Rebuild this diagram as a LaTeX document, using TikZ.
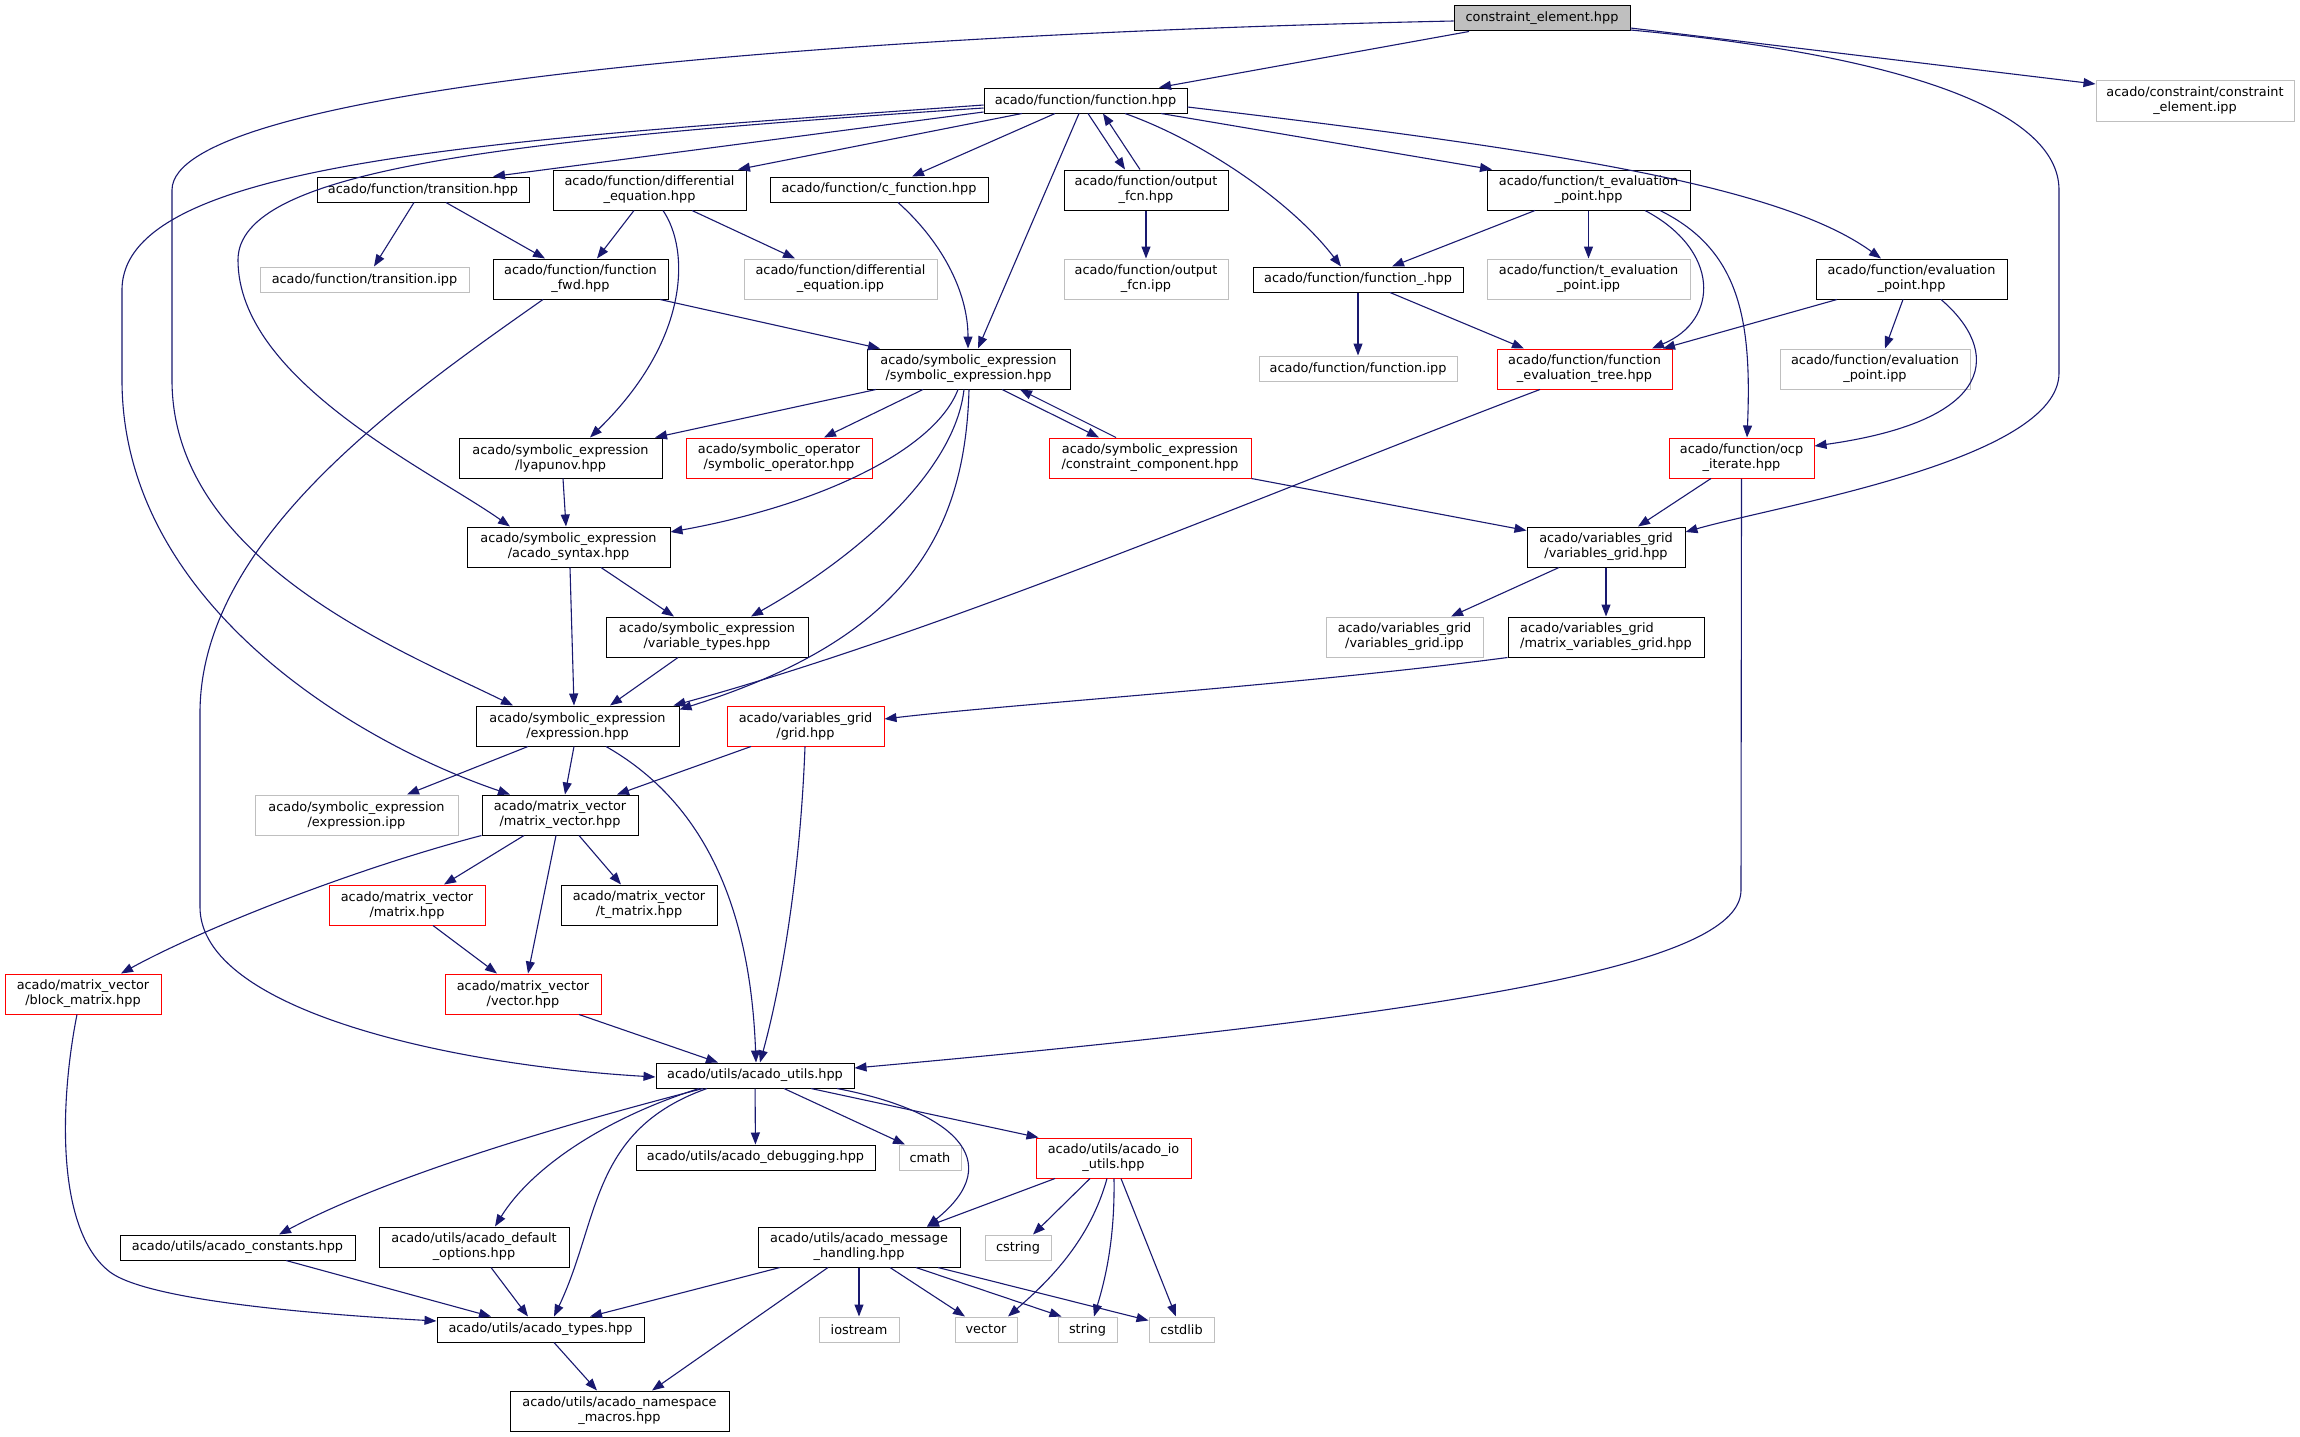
\documentclass[tikz,border=0pt]{standalone}
\usepackage{fontspec}
\setmainfont{DejaVu Sans}
\usetikzlibrary{arrows.meta}
\definecolor{edgec}{HTML}{191970}
\definecolor{grayc}{HTML}{BFBFBF}
\newcommand\dxfont{\fontsize{12.87pt}{15pt}\selectfont}
\tikzset{
 nb/.style={draw=black, line width=1pt, inner sep=0pt, align=center, font=\dxfont, fill=white},
 gb/.style={nb, draw=grayc},
 rb/.style={nb, draw=red},
 edge/.style={draw=edgec, line width=1.1pt, -{Triangle[length=12pt,width=9pt]}},
}
\begin{document}
\begin{tikzpicture}[x=1pt,y=-1pt]
\fill[white] (0,0) rectangle (2300,1437);
\useasboundingbox (0,0) rectangle (2300,1437);
% nodes
\node[nb, fill=grayc, minimum width=176, minimum height=25] (ce) at (1542,18.5) {constraint\_element.hpp};
\node[nb, minimum width=203, minimum height=25] (ff) at (1085.5,100.5) {acado/function/function.hpp};
\node[gb, minimum width=198, minimum height=40] (ceipp) at (2195,101) {acado/constraint/constraint\\\_element.ipp};
\node[nb, minimum width=212, minimum height=25] (tr) at (423,189.5) {acado/function/transition.hpp};
\node[nb, minimum width=193, minimum height=40] (de) at (649.5,190) {acado/function/differential\\\_equation.hpp};
\node[nb, minimum width=218, minimum height=25] (cf) at (879,189.5) {acado/function/c\_function.hpp};
\node[nb, minimum width=164, minimum height=40] (of) at (1146,190) {acado/function/output\\\_fcn.hpp};
\node[nb, minimum width=203, minimum height=40] (te) at (1588.5,190) {acado/function/t\_evaluation\\\_point.hpp};
\node[gb, minimum width=209, minimum height=25] (tripp) at (364.5,279.5) {acado/function/transition.ipp};
\node[nb, minimum width=175, minimum height=40] (fwd) at (580.5,279) {acado/function/function\\\_fwd.hpp};
\node[gb, minimum width=193, minimum height=40] (deipp) at (840.5,279) {acado/function/differential\\\_equation.ipp};
\node[gb, minimum width=164, minimum height=40] (ofipp) at (1146,279) {acado/function/output\\\_fcn.ipp};
\node[nb, minimum width=210, minimum height=25] (fu) at (1358,279.5) {acado/function/function\_.hpp};
\node[gb, minimum width=203, minimum height=40] (teipp) at (1588.5,279) {acado/function/t\_evaluation\\\_point.ipp};
\node[nb, minimum width=191, minimum height=40] (ep) at (1911.5,279) {acado/function/evaluation\\\_point.hpp};
\node[nb, minimum width=203, minimum height=40] (se) at (968.5,369) {acado/symbolic\_expression\\/symbolic\_expression.hpp};
\node[gb, minimum width=198, minimum height=25] (fipp) at (1358,368.5) {acado/function/function.ipp};
\node[rb, minimum width=175, minimum height=40] (fet) at (1584.5,369) {acado/function/function\\\_evaluation\_tree.hpp};
\node[gb, minimum width=190, minimum height=40] (epipp) at (1875,369) {acado/function/evaluation\\\_point.ipp};
\node[nb, minimum width=203, minimum height=40] (ly) at (560.5,458) {acado/symbolic\_expression\\/lyapunov.hpp};
\node[rb, minimum width=186, minimum height=40] (so) at (779,458) {acado/symbolic\_operator\\/symbolic\_operator.hpp};
\node[rb, minimum width=202, minimum height=40] (cc) at (1150,458) {acado/symbolic\_expression\\/constraint\_component.hpp};
\node[rb, minimum width=145, minimum height=40] (ocp) at (1741.5,458) {acado/function/ocp\\\_iterate.hpp};
\node[nb, minimum width=203, minimum height=40] (syn) at (568.5,547) {acado/symbolic\_expression\\/acado\_syntax.hpp};
\node[nb, minimum width=158, minimum height=40] (vg) at (1606,547) {acado/variables\_grid\\/variables\_grid.hpp};
\node[nb, minimum width=202, minimum height=40] (vt) at (707,637) {acado/symbolic\_expression\\/variable\_types.hpp};
\node[gb, minimum width=157, minimum height=40] (vgipp) at (1404.5,637) {acado/variables\_grid\\/variables\_grid.ipp};
\node[nb, align=left, minimum width=196, minimum height=40] (mvg) at (1606,637) {acado/variables\_grid\\/matrix\_variables\_grid.hpp};
\node[nb, minimum width=203, minimum height=40] (ex) at (577.5,726) {acado/symbolic\_expression\\/expression.hpp};
\node[rb, minimum width=157, minimum height=40] (grid) at (805.5,726) {acado/variables\_grid\\/grid.hpp};
\node[gb, minimum width=203, minimum height=40] (exipp) at (356.5,815) {acado/symbolic\_expression\\/expression.ipp};
\node[nb, minimum width=156, minimum height=40] (mv) at (560,815) {acado/matrix\_vector\\/matrix\_vector.hpp};
\node[rb, minimum width=156, minimum height=40] (mat) at (407,905) {acado/matrix\_vector\\/matrix.hpp};
\node[nb, minimum width=156, minimum height=40] (tm) at (639,905) {acado/matrix\_vector\\/t\_matrix.hpp};
\node[rb, minimum width=156, minimum height=40] (bm) at (83,994) {acado/matrix\_vector\\/block\_matrix.hpp};
\node[rb, minimum width=156, minimum height=40] (vec) at (523,994) {acado/matrix\_vector\\/vector.hpp};
\node[nb, minimum width=198, minimum height=25] (au) at (755,1075.5) {acado/utils/acado\_utils.hpp};
\node[nb, minimum width=239, minimum height=25] (dbg) at (755.5,1157.5) {acado/utils/acado\_debugging.hpp};
\node[gb, minimum width=62, minimum height=25] (cmath) at (930,1157.5) {cmath};
\node[rb, minimum width=155, minimum height=40] (io) at (1113.5,1158) {acado/utils/acado\_io\\\_utils.hpp};
\node[nb, minimum width=235, minimum height=25] (con) at (237.5,1247.5) {acado/utils/acado\_constants.hpp};
\node[nb, minimum width=190, minimum height=40] (dop) at (474,1247) {acado/utils/acado\_default\\\_options.hpp};
\node[nb, minimum width=202, minimum height=40] (mh) at (859,1247) {acado/utils/acado\_message\\\_handling.hpp};
\node[gb, minimum width=66, minimum height=25] (cstring) at (1018,1247.5) {cstring};
\node[nb, minimum width=207, minimum height=25] (ty) at (540.5,1329.5) {acado/utils/acado\_types.hpp};
\node[gb, minimum width=80, minimum height=25] (iostream) at (859,1329.5) {iostream};
\node[gb, minimum width=62, minimum height=25] (vector) at (986,1329.5) {vector};
\node[gb, minimum width=59, minimum height=25] (string) at (1087.5,1329.5) {string};
\node[gb, minimum width=65, minimum height=25] (cstdlib) at (1181.5,1329.5) {cstdlib};
\node[nb, minimum width=219, minimum height=40] (nm) at (619.5,1411) {acado/utils/acado\_namespace\\\_macros.hpp};
% edges
\draw[edge] ([xshift=-73pt]ce.south) -- ([xshift=73.5pt]ff.north);
\draw[edge] ([yshift=-9.5pt]ce.east) -- ([yshift=17pt]ceipp.west);
\draw[edge] ([yshift=-11.5pt]ce.east) .. controls (1900,55) and (2059,110) .. (2059,190) -- (2059,373) .. controls (2059,460) and (1780,505) .. ([yshift=15pt]vg.east);
\draw[edge] ([yshift=-2.5pt]ce.west) .. controls (800,35) and (172,90) .. (172,190) -- (172,380) .. controls (172,560) and (400,650) .. ([xshift=-64.5pt]ex.north);
\draw[edge] ([yshift=-4.5pt]ff.west) .. controls (500,140) and (122,160) .. (122,290) -- (122,380) .. controls (122,600) and (350,740) .. ([xshift=-50pt]mv.north);
\draw[edge] ([yshift=-7.5pt]ff.west) .. controls (500,140) and (238,170) .. (238,260) .. controls (238,380) and (430,470) .. ([xshift=-58.5pt]syn.north);
\draw[edge] ([yshift=-11.5pt]ff.west) -- ([xshift=70pt]tr.north);
\draw[edge] ([xshift=-63.5pt]ff.south) -- ([xshift=88.5pt]de.north);
\draw[edge] ([xshift=-30.5pt]ff.south) -- ([xshift=33pt]cf.north);
\draw[edge] ([xshift=-6.5pt]ff.south) -- ([xshift=9.5pt]se.north);
\draw[edge] ([xshift=2.5pt]ff.south) -- ([xshift=-21pt]of.north);
\draw[edge] ([xshift=-6pt]of.north) -- ([xshift=17.5pt]ff.south);
\draw[edge] ([xshift=39.5pt]ff.south) .. controls (1200,140) and (1290,200) .. ([xshift=-17pt]fu.north);
\draw[edge] ([xshift=75.5pt]ff.south) -- ([xshift=-96.5pt]te.north);
\draw[edge] ([yshift=-6.5pt]ff.east) .. controls (1550,150) and (1780,185) .. ([xshift=-30.5pt]ep.north);
\draw[edge] ([xshift=-9pt]tr.south) -- ([xshift=9.5pt]tripp.north);
\draw[edge] ([xshift=23pt]tr.south) -- ([xshift=-35.5pt]fwd.north);
\draw[edge] ([xshift=-15.5pt]de.south) -- ([xshift=16.5pt]fwd.north);
\draw[edge] ([xshift=42.5pt]de.south) -- ([xshift=-45.5pt]deipp.north);
\draw[edge] ([xshift=13.5pt]de.south) .. controls (690,250) and (690,340) .. ([xshift=29.5pt]ly.north);
\draw[edge] ([xshift=19pt]cf.south) .. controls (940,240) and (968,290) .. ([xshift=-0.5pt]se.north);
\draw[edge] (of) -- (ofipp);
\draw[edge] ([xshift=-53.5pt]te.south) -- ([xshift=34pt]fu.north);
\draw[edge] (te) -- (teipp);
\draw[edge] ([xshift=56.5pt]te.south) .. controls (1720,250) and (1720,320) .. ([xshift=67.5pt]fet.north);
\draw[edge] ([xshift=71.5pt]te.south) .. controls (1740,250) and (1752,320) .. ([xshift=5.5pt]ocp.north);
\draw[edge] (fu) -- (fipp);
\draw[edge] ([xshift=32pt]fu.south) -- ([xshift=-60.5pt]fet.north);
\draw[edge] ([xshift=-74.5pt]ep.south) -- ([xshift=78.5pt]fet.north);
\draw[edge] ([xshift=-8.5pt]ep.south) -- ([xshift=10pt]epipp.north);
\draw[edge] ([xshift=29.5pt]ep.south) .. controls (2000,350) and (2000,420) .. ([yshift=12pt]ocp.east);
\draw[edge] ([xshift=79.5pt]fwd.south) -- ([xshift=-88.5pt]se.north);
\draw[edge] ([xshift=-37.5pt]fwd.south) .. controls (400,400) and (200,540) .. (200,713) -- (200,907) .. controls (200,1010) and (450,1065) .. ([yshift=-1.5pt]au.west);
\draw[edge] ([xshift=-92.5pt]se.south) -- ([xshift=94.5pt]ly.north);
\draw[edge] ([xshift=-45.5pt]se.south) -- ([xshift=45pt]so.north);
\draw[edge] ([xshift=33.5pt]se.south) -- ([xshift=-51pt]cc.north);
\draw[edge] ([xshift=-34pt]cc.north) -- ([xshift=51.5pt]se.south);
\draw[edge] ([xshift=-10.5pt]se.south) .. controls (935,450) and (820,505) .. ([yshift=15pt]syn.east);
\draw[edge] ([xshift=-4.5pt]se.south) .. controls (955,470) and (860,555) .. ([xshift=44pt]vt.north);
\draw[edge] ([xshift=0.5pt]se.south) .. controls (965,540) and (900,640) .. ([yshift=-4pt]ex.north east);
\draw[edge] ([xshift=-44.5pt]fet.south) .. controls (1300,480) and (950,630) .. ([xshift=-6pt]ex.north east);
\draw[edge] ([xshift=2.5pt]ly.south) -- ([xshift=-2.5pt]syn.north);
\draw[edge] ([xshift=1.5pt]syn.south) -- ([xshift=-3.5pt]ex.north);
\draw[edge] ([xshift=32.5pt]syn.south) -- ([xshift=-33pt]vt.north);
\draw[edge] ([xshift=-29pt]vt.south) -- ([xshift=32.5pt]ex.north);
\draw[edge] (cc.south east) -- ([yshift=-4pt]vg.north west);
\draw[edge] ([xshift=-30.5pt]ocp.south) -- ([xshift=32pt]vg.north);
\draw[edge] (ocp.south) -- (1741,890) .. controls (1741,960) and (1500,1010) .. ([yshift=7.5pt]au.east);
\draw[edge] ([xshift=-47pt]vg.south) -- ([xshift=46.5pt]vgipp.north);
\draw[edge] (vg) -- (mvg);
\draw[edge] (mvg.south west) .. controls (1300,685) and (1000,705) .. ([yshift=7pt]grid.east);
\draw[edge] ([xshift=-49.5pt]ex.south) -- ([xshift=50.5pt]exipp.north);
\draw[edge] ([xshift=-3.5pt]ex.south) -- ([xshift=5pt]mv.north);
\draw[edge] ([xshift=28.5pt]ex.south) .. controls (700,800) and (750,900) .. ([xshift=1pt]au.north);
\draw[edge] ([xshift=-54.5pt]grid.south) -- ([xshift=57pt]mv.north);
\draw[edge] ([xshift=-0.5pt]grid.south) .. controls (800,880) and (780,990) .. ([xshift=5pt]au.north);
\draw[edge] ([xshift=-36pt]mv.south) -- ([xshift=37pt]mat.north);
\draw[edge] ([xshift=19pt]mv.south) -- ([xshift=-18pt]tm.north);
\draw[edge] ([xshift=-4pt]mv.south) -- ([xshift=5pt]vec.north);
\draw[edge] (mv.south west) .. controls (350,870) and (200,930) .. ([xshift=38pt]bm.north);
\draw[edge] ([xshift=26pt]mat.south) -- ([xshift=-26pt]vec.north);
\draw[edge] ([xshift=56pt]vec.south) -- ([xshift=-37pt]au.north);
\draw[edge] ([xshift=-6pt]bm.south) .. controls (60,1100) and (55,1230) .. (110,1272) .. controls (150,1302) and (330,1315) .. ([yshift=8.5pt]ty.west);
\draw[edge] (au) -- (dbg);
\draw[edge] ([xshift=29pt]au.south) -- ([xshift=-25pt]cmath.north);
\draw[edge] ([xshift=56pt]au.south) -- ([xshift=3pt]io.north west);
\draw[edge] ([xshift=82pt]au.south) .. controls (950,1110) and (1010,1160) .. ([xshift=68pt]mh.north);
\draw[edge] ([xshift=-52pt]au.south) .. controls (600,1115) and (400,1170) .. ([xshift=41.5pt]con.north);
\draw[edge] ([xshift=-56pt]au.south) .. controls (600,1120) and (530,1170) .. ([xshift=21pt]dop.north);
\draw[edge] ([xshift=-48pt]au.south) .. controls (590,1130) and (600,1220) .. ([xshift=13.5pt]ty.north);
\draw[edge] ([xshift=48.5pt]con.south) -- ([xshift=-49.5pt]ty.north);
\draw[edge] ([xshift=17pt]dop.south) -- ([xshift=-12.5pt]ty.north);
\draw[edge] ([xshift=-58.5pt]io.south) -- ([xshift=68pt]mh.north);
\draw[edge] ([xshift=-23.5pt]io.south) -- ([xshift=15pt]cstring.north);
\draw[edge] ([xshift=-6.5pt]io.south) .. controls (1090,1240) and (1050,1280) .. ([xshift=22pt]vector.north);
\draw[edge] ([xshift=0.5pt]io.south) .. controls (1115,1240) and (1105,1280) .. ([xshift=6.5pt]string.north);
\draw[edge] ([xshift=7.5pt]io.south) -- ([xshift=-5.5pt]cstdlib.north);
\draw[edge] ([xshift=-79pt]mh.south) -- ([xshift=49.5pt]ty.north);
\draw[edge] ([xshift=-31pt]mh.south) -- ([xshift=32.5pt]nm.north);
\draw[edge] (mh) -- (iostream);
\draw[edge] ([xshift=31pt]mh.south) -- ([xshift=-21pt]vector.north);
\draw[edge] ([xshift=57pt]mh.south) -- ([xshift=4pt]string.north west);
\draw[edge] ([xshift=79pt]mh.south) -- ([yshift=-4pt]cstdlib.north west);
\draw[edge] ([xshift=13.5pt]ty.south) -- ([xshift=-22.5pt]nm.north);
\end{tikzpicture}
\end{document}
